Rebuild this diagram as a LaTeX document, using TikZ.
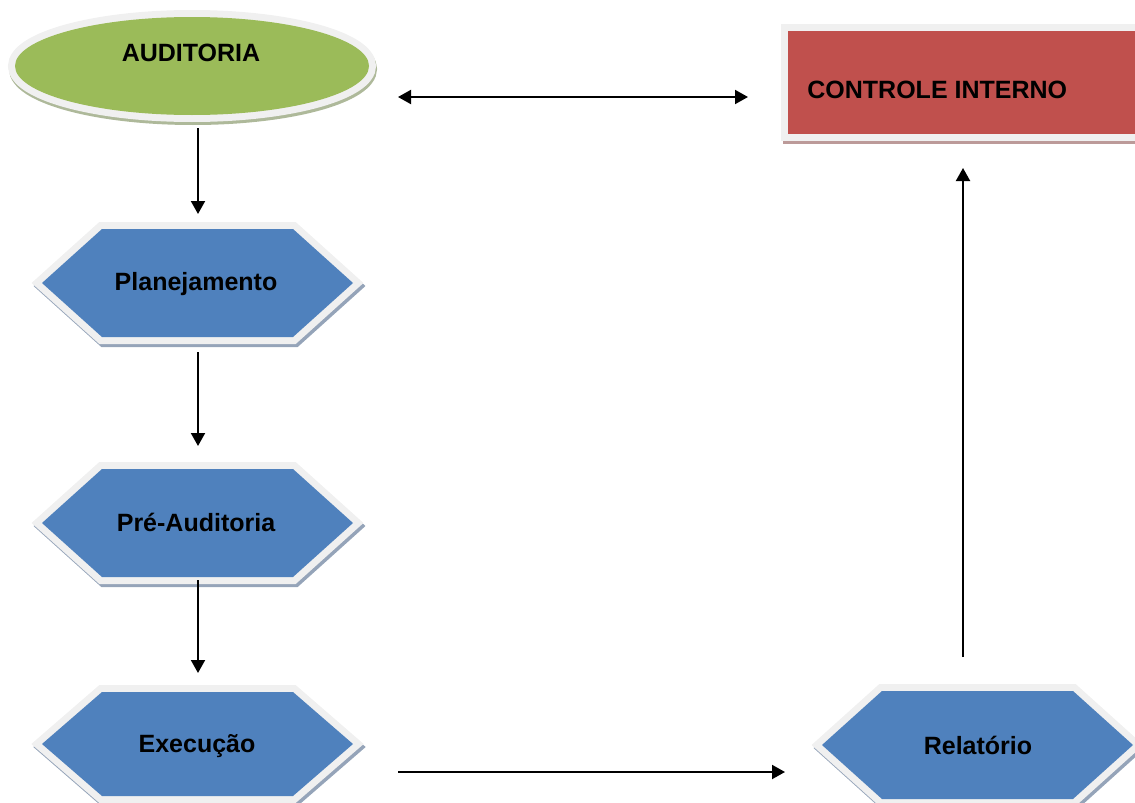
\documentclass[tikz,border=0pt]{standalone}
\usepackage{fontspec}
\setmainfont{Liberation Sans}
\usetikzlibrary{arrows.meta}
\definecolor{hexblue}{HTML}{4F81BD}
\definecolor{audgreen}{HTML}{9BBB59}
\definecolor{ctrlred}{HTML}{C0504D}
\definecolor{bordergrey}{HTML}{F0F0F0}
\definecolor{blueshadow}{HTML}{95A4B9}
\definecolor{greenshadow}{HTML}{AEB99A}
\definecolor{redshadow}{HTML}{BC9A99}
\newcommand{\hexagonat}[3]{%
  \begin{scope}[shift={(#1,#2)}]
    \filldraw[draw=blueshadow, fill=blueshadow, line width=7pt, line join=miter, shift={(2,3)}]
      (-156,0) -- (-96,-#3) -- (95,-#3) -- (155,0) -- (95,#3) -- (-96,#3) -- cycle;
    \filldraw[draw=bordergrey, fill=hexblue, line width=7pt, line join=miter]
      (-156,0) -- (-96,-#3) -- (95,-#3) -- (155,0) -- (95,#3) -- (-96,#3) -- cycle;
    \fill[hexblue]
      (-156,0) -- (-96,-#3) -- (95,-#3) -- (155,0) -- (95,#3) -- (-96,#3) -- cycle;
  \end{scope}}
\begin{document}
\begin{tikzpicture}[x=0.5pt,y=-0.5pt,
  lbl/.style={font=\fontsize{12.5}{15}\selectfont\bfseries, inner sep=0pt, text=black},
  conn/.style={line width=1pt, -{Triangle[length=6.5pt,width=7pt]}},
  dconn/.style={line width=1pt, {Triangle[length=6.5pt,width=7pt]}-{Triangle[length=6.5pt,width=7pt]}}]
\useasboundingbox (0,0) rectangle (1135,803);

% AUDITORIA ellipse
\filldraw[draw=greenshadow, fill=greenshadow, line width=7pt] (193,69) ellipse [x radius=177, y radius=49];
\filldraw[draw=bordergrey, fill=audgreen, line width=7pt] (192,66) ellipse [x radius=177, y radius=49];
\fill[audgreen] (192,66) ellipse [x radius=177, y radius=49];
\node[lbl] (aud) at (191,53) {AUDITORIA};

% CONTROLE INTERNO rectangle
\filldraw[draw=redshadow, fill=redshadow, line width=7pt] (790,34) rectangle (1145,137);
\filldraw[draw=bordergrey, fill=ctrlred, line width=7pt] (788,31) rectangle (1145,134);
\fill[ctrlred] (788,31) rectangle (1145,134);
\node[lbl, anchor=west] (ctrl) at (807,90) {CONTROLE INTERNO};

% Hexagons
\hexagonat{198}{283}{54}
\node[lbl] (plan) at (196,284) {Planejamento};
\hexagonat{198}{523}{54}
\node[lbl] (pre) at (196,522) {Pré-Auditoria};
\hexagonat{198}{744}{52}
\node[lbl] (exec) at (197,746) {Execução};
\hexagonat{978}{745}{54}
\node[lbl] (rel) at (978,745) {Relatório};

% connector end points
\coordinate (audR) at (398,97);
\coordinate (ctrlL) at (748,97);
\coordinate (audB) at (198,128);
\coordinate (planT) at (198,214);
\coordinate (planB) at (198,352);
\coordinate (preT) at (198,446);
\coordinate (preB) at (198,580);
\coordinate (execT) at (198,673);
\coordinate (execR) at (398,772);
\coordinate (relL) at (785,772);
\coordinate (relT) at (963,657);
\coordinate (ctrlB) at (963,168);

\draw[dconn] (audR) -- (ctrlL);
\draw[conn] (audB) -- (planT);
\draw[conn] (planB) -- (preT);
\draw[conn] (preB) -- (execT);
\draw[conn] (execR) -- (relL);
\draw[conn] (relT) -- (ctrlB);
\end{tikzpicture}
\end{document}
